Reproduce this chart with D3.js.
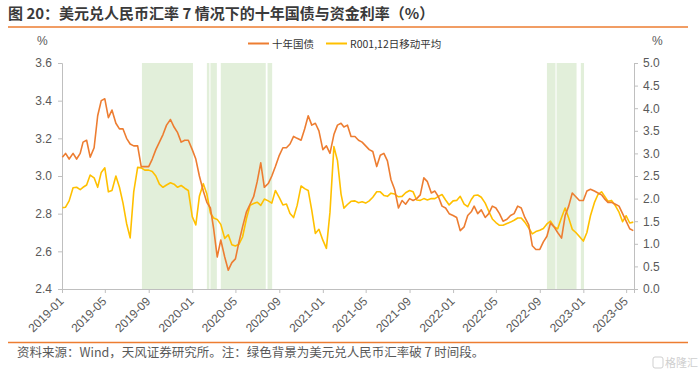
<!DOCTYPE html>
<html>
<head>
<meta charset="utf-8">
<script src="https://cdn.jsdelivr.net/npm/d3@7"></script>
<style>
  body { margin: 0; background: #fff; }
  svg { display: block; font-family: "Liberation Sans", Arial, "Noto Sans CJK SC", sans-serif; }
  .cjk { font-family: "Noto Sans CJK SC", "Liberation Sans", sans-serif; }
</style>
</head>
<body>
<svg id="chart" width="700" height="374"></svg>
<script>
// dates of the readings (3 per month)
const dates = [
  "2019-01-02","2019-01-11","2019-01-21","2019-02-01","2019-02-11","2019-02-21","2019-03-01","2019-03-11","2019-03-21",
  "2019-04-01","2019-04-11","2019-04-21","2019-05-01","2019-05-11","2019-05-21","2019-06-01","2019-06-11","2019-06-21",
  "2019-07-01","2019-07-11","2019-07-21","2019-08-01","2019-08-11","2019-08-21","2019-09-01","2019-09-11","2019-09-21",
  "2019-10-01","2019-10-11","2019-10-21","2019-11-01","2019-11-11","2019-11-21","2019-12-01","2019-12-11","2019-12-21",
  "2020-01-01","2020-01-11","2020-01-21","2020-02-01","2020-02-11","2020-02-21","2020-03-01","2020-03-11","2020-03-21",
  "2020-04-01","2020-04-11","2020-04-21","2020-05-01","2020-05-11","2020-05-21","2020-06-01","2020-06-11","2020-06-21",
  "2020-07-01","2020-07-11","2020-07-21","2020-08-01","2020-08-11","2020-08-21","2020-09-01","2020-09-11","2020-09-21",
  "2020-10-01","2020-10-11","2020-10-21","2020-11-01","2020-11-11","2020-11-21","2020-12-01","2020-12-11","2020-12-21",
  "2021-01-01","2021-01-11","2021-01-21","2021-02-01","2021-02-11","2021-02-21","2021-03-01","2021-03-11","2021-03-21",
  "2021-04-01","2021-04-11","2021-04-21","2021-05-01","2021-05-11","2021-05-21","2021-06-01","2021-06-11","2021-06-21",
  "2021-07-01","2021-07-11","2021-07-21","2021-08-01","2021-08-11","2021-08-21","2021-09-01","2021-09-11","2021-09-21",
  "2021-10-01","2021-10-11","2021-10-21","2021-11-01","2021-11-11","2021-11-21","2021-12-01","2021-12-11","2021-12-21",
  "2022-01-01","2022-01-11","2022-01-21","2022-02-01","2022-02-11","2022-02-21","2022-03-01","2022-03-11","2022-03-21",
  "2022-04-01","2022-04-11","2022-04-21","2022-05-01","2022-05-11","2022-05-21","2022-06-01","2022-06-11","2022-06-21",
  "2022-07-01","2022-07-11","2022-07-21","2022-08-01","2022-08-11","2022-08-21","2022-09-01","2022-09-11","2022-09-21",
  "2022-10-01","2022-10-11","2022-10-21","2022-11-01","2022-11-11","2022-11-21","2022-12-01","2022-12-11","2022-12-21",
  "2023-01-01","2023-01-11","2023-01-21","2023-02-01","2023-02-11","2023-02-21","2023-03-01","2023-03-11","2023-03-21",
  "2023-04-01","2023-04-11","2023-04-21","2023-05-01","2023-05-11","2023-05-21"
];

// 十年国债 (left axis, %)
const bond10y = [
  3.10,3.12,3.09, 3.12,3.09,3.12, 3.18,3.19,3.10, 3.15,3.32,3.40, 3.41,3.31,3.35, 3.28,3.25,3.25,
  3.20,3.17,3.16, 3.16,3.05,3.05, 3.05,3.09,3.14, 3.18,3.22,3.27, 3.30,3.26,3.23, 3.18,3.19,3.19,
  3.14,3.09,3.00, 2.92,2.86,2.83, 2.72,2.57,2.66, 2.57,2.50,2.54, 2.56,2.65,2.73, 2.81,2.85,2.89,
  2.97,3.07,2.94, 2.96,3.00,3.05, 3.11,3.15,3.15, 3.17,3.21,3.20, 3.19,3.25,3.32, 3.27,3.28,3.24,
  3.14,3.16,3.12, 3.22,3.27,3.28, 3.26,3.27,3.21, 3.21,3.19,3.18, 3.16,3.14,3.13, 3.05,3.11,3.12,
  3.08,2.98,2.93, 2.83,2.87,2.85, 2.88,2.87,2.88, 2.90,2.99,2.97, 2.91,2.92,2.89, 2.84,2.83,2.80,
  2.79,2.78,2.71, 2.73,2.79,2.81, 2.84,2.80,2.82, 2.78,2.80,2.84, 2.83,2.80,2.76, 2.77,2.79,2.80,
  2.84,2.83,2.78, 2.74,2.63,2.61, 2.61,2.65,2.68, 2.75,2.73,2.70, 2.67,2.79,2.84, 2.91,2.89,2.87,
  2.87,2.92,2.93, 2.92,2.91,2.90, 2.88,2.86,2.86, 2.85,2.84,2.80, 2.76,2.72,2.71
];

// R001 12日移动平均 (right axis, %)
const r001ma = [
  1.80,1.81,1.95, 2.24,2.25,2.20, 2.25,2.30,2.52, 2.46,2.25,2.58, 2.68,2.15,2.18, 2.50,2.25,1.90,
  1.45,1.13,2.15, 2.69,2.68,2.63, 2.63,2.60,2.50, 2.32,2.25,2.30, 2.35,2.32,2.25, 2.29,2.23,2.18,
  1.60,1.42,2.05, 2.33,2.10,1.68, 1.57,1.54,1.43, 1.12,1.20,0.98, 0.95,0.99,1.15, 1.56,1.85,1.89,
  1.92,1.85,1.99, 1.95,1.90,2.18, 2.02,1.86,1.88, 1.67,1.58,1.85, 2.28,2.22,2.18, 1.74,1.23,1.32,
  1.08,0.90,1.70, 3.15,2.84,2.10, 1.79,1.87,1.94, 1.95,1.91,1.93, 1.90,1.95,2.03, 2.15,2.15,2.07,
  2.05,2.12,2.10, 2.04,2.05,2.13, 2.18,2.15,1.97, 1.96,2.00,1.97, 2.00,2.00,2.05, 2.09,1.97,1.86,
  1.95,1.96,2.05, 1.88,1.82,1.98, 2.07,2.08,2.03, 1.90,1.72,1.55, 1.47,1.41,1.41, 1.45,1.48,1.52,
  1.57,1.57,1.48, 1.35,1.22,1.27, 1.30,1.34,1.44, 1.50,1.38,1.33, 1.58,1.79,1.57, 1.32,1.25,1.16,
  1.06,1.25,1.62, 1.91,2.09,2.15, 2.06,1.94,1.96, 1.84,1.70,1.49, 1.62,1.46,1.48
];

// periods with USD/CNY above 7 (green background)
const breakStart = ["2019-08-13","2020-02-11","2020-02-21","2020-03-21","2020-07-30","2022-09-21","2022-10-18","2022-12-25"];
const breakEnd   = ["2020-01-03","2020-02-18","2020-03-10","2020-07-25","2020-08-12","2022-10-15","2022-12-13","2023-01-03"];

const xTicks = ["2019-01","2019-05","2019-09","2020-01","2020-05","2020-09","2021-01","2021-05",
                "2021-09","2022-01","2022-05","2022-09","2023-01","2023-05"];
const leftTicks = [2.4, 2.6, 2.8, 3.0, 3.2, 3.4, 3.6];
const rightTicks = [0, 0.5, 1.0, 1.5, 2.0, 2.5, 3.0, 3.5, 4.0, 4.5, 5.0];

const seriesNames = ["十年国债", "R001,12日移动平均"];
const colors = ["#ED7D31", "#FFC000"];

const parseDay = d3.timeParse("%Y-%m-%d");
const parseMonth = d3.timeParse("%Y-%m");

const svg = d3.select("#chart");
const plotL = 62, plotR = 634, plotT = 63, plotB = 289;

const x = d3.scaleTime()
  .domain([parseDay("2019-01-01"), parseDay("2023-05-23")])
  .range([plotL, plotR]);
const yL = d3.scaleLinear().domain([2.4, 3.6]).range([plotB, plotT]);
const yR = d3.scaleLinear().domain([0, 5]).range([plotB, plotT]);

// title
svg.append("text").attr("class", "cjk")
  .attr("x", 8).attr("y", 19)
  .attr("font-size", 15).attr("font-weight", "bold").attr("fill", "#3a3a3a")
  .text("图 20：美元兑人民币汇率 7 情况下的十年国债与资金利率（%）");

svg.append("line").attr("x1", 8).attr("x2", 688).attr("y1", 27).attr("y2", 27)
  .attr("stroke", "#ED7D31").attr("stroke-width", 1.5);

// green bands
svg.append("g").selectAll("rect")
  .data(breakStart.map((s, i) => [parseDay(s), parseDay(breakEnd[i])]))
  .enter().append("rect")
  .attr("x", d => x(d[0]))
  .attr("width", d => x(d[1]) - x(d[0]))
  .attr("y", plotT).attr("height", plotB - plotT)
  .attr("fill", "#E2EFDA");

// axes
const axisL = svg.append("g").attr("transform", `translate(${plotL},0)`)
  .call(d3.axisLeft(yL).tickValues(leftTicks).tickFormat(d3.format(".1f")).tickSize(4).tickPadding(6));
const axisR = svg.append("g").attr("transform", `translate(${plotR},0)`)
  .call(d3.axisRight(yR).tickValues(rightTicks).tickFormat(d3.format(".1f")).tickSize(4).tickPadding(5));
const axisB = svg.append("g").attr("transform", `translate(0,${plotB})`)
  .call(d3.axisBottom(x).tickValues(xTicks.map(parseMonth)).tickFormat(d3.timeFormat("%Y-%m")).tickSize(4));

[axisL, axisR, axisB].forEach(g => {
  g.select(".domain").attr("stroke", "#BFBFBF");
  g.selectAll(".tick line").attr("stroke", "#BFBFBF");
  g.selectAll(".tick text").attr("fill", "#595959").attr("font-size", 12);
});
axisB.selectAll(".tick text")
  .attr("text-anchor", "end")
  .attr("transform", "translate(-1,10) rotate(-45)")
  .attr("dy", "0.35em").attr("y", 0).attr("x", 0);

// unit labels
svg.append("text").attr("x", 37).attr("y", 45).attr("font-size", 12).attr("fill", "#595959").text("%");
svg.append("text").attr("x", 652).attr("y", 45).attr("font-size", 12).attr("fill", "#595959").text("%");

// lines
const pts = dates.map(parseDay);
const lineL = d3.line().x((d, i) => x(pts[i])).y(d => yL(d));
const lineR = d3.line().x((d, i) => x(pts[i])).y(d => yR(d));

svg.append("path").datum(r001ma).attr("d", lineR)
  .attr("fill", "none").attr("stroke", colors[1]).attr("stroke-width", 1.6).attr("stroke-linejoin", "round");
svg.append("path").datum(bond10y).attr("d", lineL)
  .attr("fill", "none").attr("stroke", colors[0]).attr("stroke-width", 1.6).attr("stroke-linejoin", "round");

// legend
const legend = svg.append("g").attr("class", "cjk");
const legendX = [248, 326];
seriesNames.forEach((name, i) => {
  legend.append("line").attr("x1", legendX[i]).attr("x2", legendX[i] + 21)
    .attr("y1", 43.5).attr("y2", 43.5).attr("stroke", colors[i]).attr("stroke-width", 2);
  legend.append("text").attr("x", legendX[i] + 24).attr("y", 47.5)
    .attr("font-size", 10.5).attr("fill", "#333").text(name);
});

// footer
svg.append("line").attr("x1", 8).attr("x2", 688).attr("y1", 342.5).attr("y2", 342.5)
  .attr("stroke", "#ED7D31").attr("stroke-width", 1.5);
svg.append("text").attr("class", "cjk")
  .attr("x", 17).attr("y", 356.5).attr("font-size", 12.5).attr("fill", "#595959")
  .text("资料来源：Wind，天风证券研究所。注：绿色背景为美元兑人民币汇率破 7 时间段。");

// watermark
svg.append("rect").attr("x", 653).attr("y", 357).attr("width", 10).attr("height", 11).attr("rx", 2)
  .attr("fill", "none").attr("stroke", "#cfcfcf");
svg.append("text").attr("class", "cjk").attr("x", 665).attr("y", 367)
  .attr("font-size", 11).attr("fill", "#cfcfcf").text("格隆汇");
</script>
</body>
</html>
